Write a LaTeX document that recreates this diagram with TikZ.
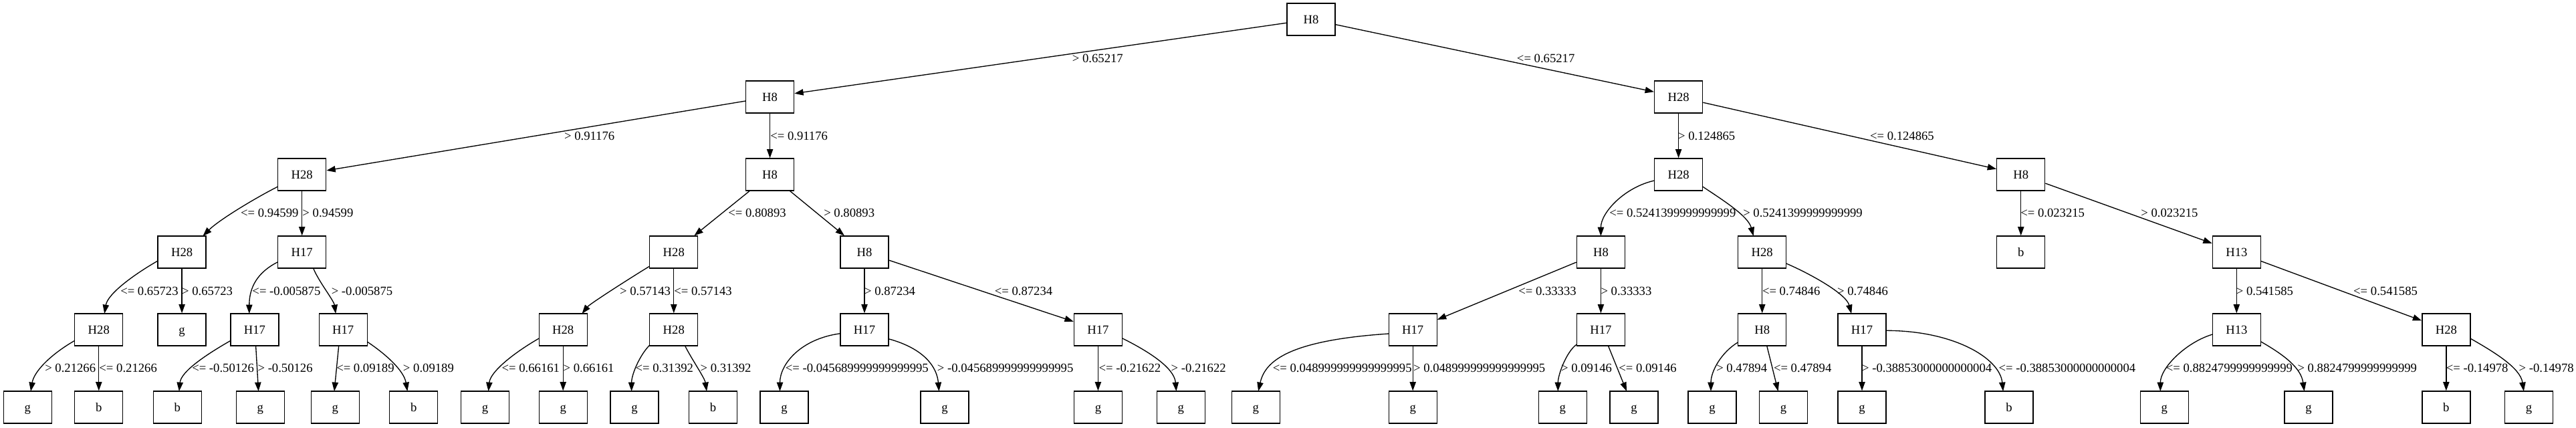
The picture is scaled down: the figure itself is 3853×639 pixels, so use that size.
\documentclass[tikz,border=0pt]{standalone}
\usepackage{fontspec}
\setmainfont{Liberation Serif}
\usetikzlibrary{arrows.meta}
\begin{document}
\begin{tikzpicture}[x=0.75pt,y=-0.75pt,
  tbox/.style={draw, line width=1pt, minimum width=54pt, minimum height=36pt, inner sep=0pt,
    text height=9.5pt, text depth=0pt, font=\fontsize{14pt}{16pt}\selectfont},
  elabel/.style={anchor=west, inner sep=0pt, text height=9.5pt, text depth=0pt,
    font=\fontsize{14pt}{16pt}\selectfont},
  edge/.style={line width=1pt, -{Triangle[length=10pt,width=7pt]}}]
\fill[white] (0,0) rectangle (3853,639);
\useasboundingbox (0,0) rectangle (3853,639);
% level 0
\node[tbox] (r) at (1961,29) {H8};
% level 1
\node[tbox] (n1) at (1151.6,145) {H8};
\node[tbox] (n2) at (2510.6,145) {H28};
% level 2
\node[tbox] (n3) at (451.7,261) {H28};
\node[tbox] (n4) at (1151.6,261) {H8};
\node[tbox] (n5) at (2510.6,261) {H28};
\node[tbox] (n6) at (3022.7,261) {H8};
% level 3
\node[tbox] (n7) at (272.1,377) {H28};
\node[tbox] (n8) at (451.7,377) {H17};
\node[tbox] (n9) at (1007.8,377) {H28};
\node[tbox] (n10) at (1293,377) {H8};
\node[tbox] (n11) at (2394.4,377) {H8};
\node[tbox] (n12) at (2635.7,377) {H28};
\node[tbox] (n13) at (3022.7,377) {b};
\node[tbox] (n14) at (3345.3,377) {H13};
% level 4
\node[tbox] (m1) at (147.8,493) {H28};
\node[tbox] (m2) at (272.1,493) {g};
\node[tbox] (m3) at (381,493) {H17};
\node[tbox] (m4) at (513.2,493) {H17};
\node[tbox] (m5) at (842.2,493) {H28};
\node[tbox] (m6) at (1007.8,493) {H28};
\node[tbox] (m7) at (1293,493) {H17};
\node[tbox] (m8) at (1642.4,493) {H17};
\node[tbox] (m9) at (2113.2,493) {H17};
\node[tbox] (m10) at (2394.4,493) {H17};
\node[tbox] (m11) at (2635.7,493) {H8};
\node[tbox] (m12) at (2785,493) {H17};
\node[tbox] (m13) at (3345.3,493) {H13};
\node[tbox] (m14) at (3658.8,493) {H28};
% level 5
\node[tbox] (l1) at (41.3,609) {g};
\node[tbox] (l2) at (147.8,609) {b};
\node[tbox] (l3) at (265.2,609) {b};
\node[tbox] (l4) at (389.3,609) {g};
\node[tbox] (l5) at (501.3,609) {g};
\node[tbox] (l6) at (618.75,609) {b};
\node[tbox] (l7) at (725.5,609) {g};
\node[tbox] (l8) at (842.2,609) {g};
\node[tbox] (l9) at (949.1,609) {g};
\node[tbox] (l10) at (1066.5,609) {b};
\node[tbox] (l11) at (1173,609) {g};
\node[tbox] (l12) at (1413,609) {g};
\node[tbox] (l13) at (1642.4,609) {g};
\node[tbox] (l14) at (1766.3,609) {g};
\node[tbox] (l15) at (1878.3,609) {g};
\node[tbox] (l16) at (2113.2,609) {g};
\node[tbox] (l17) at (2337.3,609) {g};
\node[tbox] (l18) at (2444,609) {g};
\node[tbox] (l19) at (2561,609) {g};
\node[tbox] (l20) at (2667.6,609) {g};
\node[tbox] (l21) at (2785,609) {g};
\node[tbox] (l22) at (3005.1,609) {b};
\node[tbox] (l23) at (3237.3,609) {g};
\node[tbox] (l24) at (3453,609) {g};
\node[tbox] (l25) at (3658.8,609) {b};
\node[tbox] (l26) at (3782.5,609) {g};
% edges level 0-1
\draw[edge] (r) -- (n1);
\draw[edge] (r) -- (n2);
% level 1-2
\draw[edge] (n1) -- (n3);
\draw[edge] (n1) -- (n4);
\draw[edge] (n2) -- (n5);
\draw[edge] (n2) -- (n6);
% level 2-3
\draw[edge] ([shift={(-36,18)}]n3.center) .. controls +(-30,15) and +(25,-25) .. ([shift={(31.3,-24)}]n7.center);
\draw[edge] (n3) -- (n8);
\draw[edge] (n4) -- (n9);
\draw[edge] (n4) -- (n10);
\draw[edge] ([shift={(-36,9)}]n5.center) .. controls +(-45,10) and +(0,-35) .. ([shift={(0,-24)}]n11.center);
\draw[edge] ([shift={(36,18)}]n5.center) .. controls +(30,20) and +(-8,-30) .. ([shift={(-13,-24)}]n12.center);
\draw[edge] (n6) -- (n13);
\draw[edge] (n6) -- (n14);
% level 3-4
\draw[edge] ([shift={(-36,13)}]n7.center) .. controls +(-35,20) and +(5,-30) .. ([shift={(8.4,-24)}]m1.center);
\draw[edge] (n7) -- (m2);
\draw[edge] ([shift={(-36,14.7)}]n8.center) .. controls +(-30,15) and +(0,-40) .. ([shift={(-8.2,-24)}]m3.center);
\draw[edge] ([shift={(16.9,24)}]n8.center) .. controls +(8,20) and +(-3,-20) .. ([shift={(-11,-24)}]m4.center);
\draw[edge] ([shift={(-36,21)}]n9.center) .. controls +(-20,12) and +(12,-15) .. ([shift={(28.3,-24)}]m5.center);
\draw[edge] (n9) -- (m6);
\draw[edge] (n10) -- (m7);
\draw[edge] (n10) -- (m8);
\draw[edge] (n11) -- (m9);
\draw[edge] (n11) -- (m10);
\draw[edge] (n12) -- (m11);
\draw[edge] ([shift={(36,17)}]n12.center) .. controls +(35,15) and +(-8,-30) .. ([shift={(-15.8,-24)}]m12.center);
\draw[edge] (n14) -- (m13);
\draw[edge] (n14) -- (m14);
% level 4-5
\draw[edge] ([shift={(-36,16.3)}]m1.center) .. controls +(-35,20) and +(5,-30) .. ([shift={(4.7,-24)}]l1.center);
\draw[edge] (m1) -- (l2);
\draw[edge] ([shift={(-36,16.3)}]m3.center) .. controls +(-35,20) and +(3,-30) .. ([shift={(2.7,-24)}]l3.center);
\draw[edge] ([shift={(1.6,24)}]m3.center) -- ([shift={(-2.7,-24)}]l4.center);
\draw[edge] ([shift={(-6.5,24)}]m4.center) -- ([shift={(-1.3,-24)}]l5.center);
\draw[edge] ([shift={(36,18)}]m4.center) .. controls +(30,20) and +(-5,-30) .. ([shift={(-9.4,-24)}]l6.center);
\draw[edge] ([shift={(-36,13)}]m5.center) .. controls +(-35,20) and +(3,-30) .. ([shift={(5,-24)}]l7.center);
\draw[edge] (m5) -- (l8);
\draw[edge] ([shift={(-36,23)}]m6.center) .. controls +(-15,15) and +(0,-25) .. ([shift={(-4.5,-24)}]l9.center);
\draw[edge] ([shift={(16.7,24)}]m6.center) .. controls +(10,20) and +(-3,-20) .. ([shift={(-9.5,-24)}]l10.center);
\draw[edge] ([shift={(-36,5.7)}]m7.center) .. controls +(-60,8) and +(0,-40) .. ([shift={(-6.5,-24)}]l11.center);
\draw[edge] ([shift={(36,13.7)}]m7.center) .. controls +(55,15) and +(-3,-35) .. ([shift={(-8.5,-24)}]l12.center);
\draw[edge] (m8) -- (l13);
\draw[edge] ([shift={(36,12.7)}]m8.center) .. controls +(40,20) and +(-3,-35) .. ([shift={(-6.9,-24)}]l14.center);
\draw[edge] ([shift={(-36,6)}]m9.center) .. controls +(-150,10) and +(10,-45) .. ([shift={(3.8,-24)}]l15.center);
\draw[edge] (m9) -- (l16);
\draw[edge] ([shift={(-36,22)}]m10.center) .. controls +(-15,10) and +(0,-25) .. ([shift={(-7,-24)}]l17.center);
\draw[edge] ([shift={(11,24)}]m10.center) -- ([shift={(-11,-24)}]l18.center);
\draw[edge] ([shift={(-36,18.7)}]m11.center) .. controls +(-25,15) and +(0,-30) .. ([shift={(-2,-24)}]l19.center);
\draw[edge] ([shift={(7,24)}]m11.center) -- ([shift={(-8,-24)}]l20.center);
\draw[edge] (m12) -- (l21);
\draw[edge] ([shift={(36,1.3)}]m12.center) .. controls +(100,0) and +(-5,-50) .. ([shift={(-9,-24)}]l22.center);
\draw[edge] ([shift={(-36,7)}]m13.center) .. controls +(-40,12) and +(0,-35) .. ([shift={(-6,-24)}]l23.center);
\draw[edge] ([shift={(36,17.7)}]m13.center) .. controls +(35,20) and +(-5,-35) .. ([shift={(-6.4,-24)}]l24.center);
\draw[edge] (m14) -- (l25);
\draw[edge] ([shift={(36,13)}]m14.center) .. controls +(35,20) and +(-5,-35) .. ([shift={(-7.7,-24)}]l26.center);
% labels level 0-1
\node[elabel] (t1) at (1603.6,87) {> 0.65217};
\node[elabel] (t2) at (2268.7,87) {<= 0.65217};
% labels level 1-2
\node[elabel] (t3) at (843.8,203) {> 0.91176};
\node[elabel] (t4) at (1152,203) {<= 0.91176};
\node[elabel] (t5) at (2509.8,203) {> 0.124865};
\node[elabel] (t6) at (2796.8,203) {<= 0.124865};
% labels level 2-3
\node[elabel] (t7) at (359.8,318) {<= 0.94599};
\node[elabel] (t8) at (452.2,318) {> 0.94599};
\node[elabel] (t9) at (1089,318) {<= 0.80893};
\node[elabel] (t10) at (1232,318) {> 0.80893};
\node[elabel] (t11) at (2407,318) {<= 0.5241399999999999};
\node[elabel] (t12) at (2607,318) {> 0.5241399999999999};
\node[elabel] (t13) at (3022,318) {<= 0.023215};
\node[elabel] (t14) at (3202,318) {> 0.023215};
% labels level 3-4
\node[elabel] (t15) at (180,435) {<= 0.65723};
\node[elabel] (t16) at (271.9,435) {> 0.65723};
\node[elabel] (t17) at (377.2,435) {<= -0.005875};
\node[elabel] (t18) at (495.5,435) {> -0.005875};
\node[elabel] (t19) at (926.8,435) {> 0.57143};
\node[elabel] (t20) at (1008,435) {<= 0.57143};
\node[elabel] (t21) at (1292.9,435) {> 0.87234};
\node[elabel] (t22) at (1487.5,435) {<= 0.87234};
\node[elabel] (t23) at (2271,435) {<= 0.33333};
\node[elabel] (t24) at (2394.2,435) {> 0.33333};
\node[elabel] (t25) at (2635.7,435) {<= 0.74846};
\node[elabel] (t26) at (2747.8,435) {> 0.74846};
\node[elabel] (t27) at (3344.5,435) {> 0.541585};
\node[elabel] (t28) at (3519.9,435) {<= 0.541585};
% labels level 4-5
\node[elabel] (t29) at (67,550) {> 0.21266};
\node[elabel] (t30) at (148.2,550) {<= 0.21266};
\node[elabel] (t31) at (287,550) {<= -0.50126};
\node[elabel] (t32) at (385.3,550) {> -0.50126};
\node[elabel] (t33) at (503,550) {<= 0.09189};
\node[elabel] (t34) at (602.7,550) {> 0.09189};
\node[elabel] (t35) at (750.4,550) {<= 0.66161};
\node[elabel] (t36) at (842.4,550) {> 0.66161};
\node[elabel] (t37) at (950.4,550) {<= 0.31392};
\node[elabel] (t38) at (1047.3,550) {> 0.31392};
\node[elabel] (t39) at (1174.6,550) {<= -0.045689999999999995};
\node[elabel] (t40) at (1401.7,550) {> -0.045689999999999995};
\node[elabel] (t41) at (1643.3,550) {<= -0.21622};
\node[elabel] (t42) at (1751.3,550) {> -0.21622};
\node[elabel] (t43) at (1903.6,550) {<= 0.048999999999999995};
\node[elabel] (t44) at (2113.8,550) {> 0.048999999999999995};
\node[elabel] (t45) at (2334.8,550) {> 0.09146};
\node[elabel] (t46) at (2421,550) {<= 0.09146};
\node[elabel] (t47) at (2567,550) {> 0.47894};
\node[elabel] (t48) at (2652.7,550) {<= 0.47894};
\node[elabel] (t49) at (2784.8,550) {> -0.38853000000000004};
\node[elabel] (t50) at (2989.3,550) {<= -0.38853000000000004};
\node[elabel] (t51) at (3239.6,550) {<= 0.8824799999999999};
\node[elabel] (t52) at (3436.2,550) {> 0.8824799999999999};
\node[elabel] (t53) at (3658.6,550) {<= -0.14978};
\node[elabel] (t54) at (3767.3,550) {> -0.14978};
\end{tikzpicture}
\end{document}
